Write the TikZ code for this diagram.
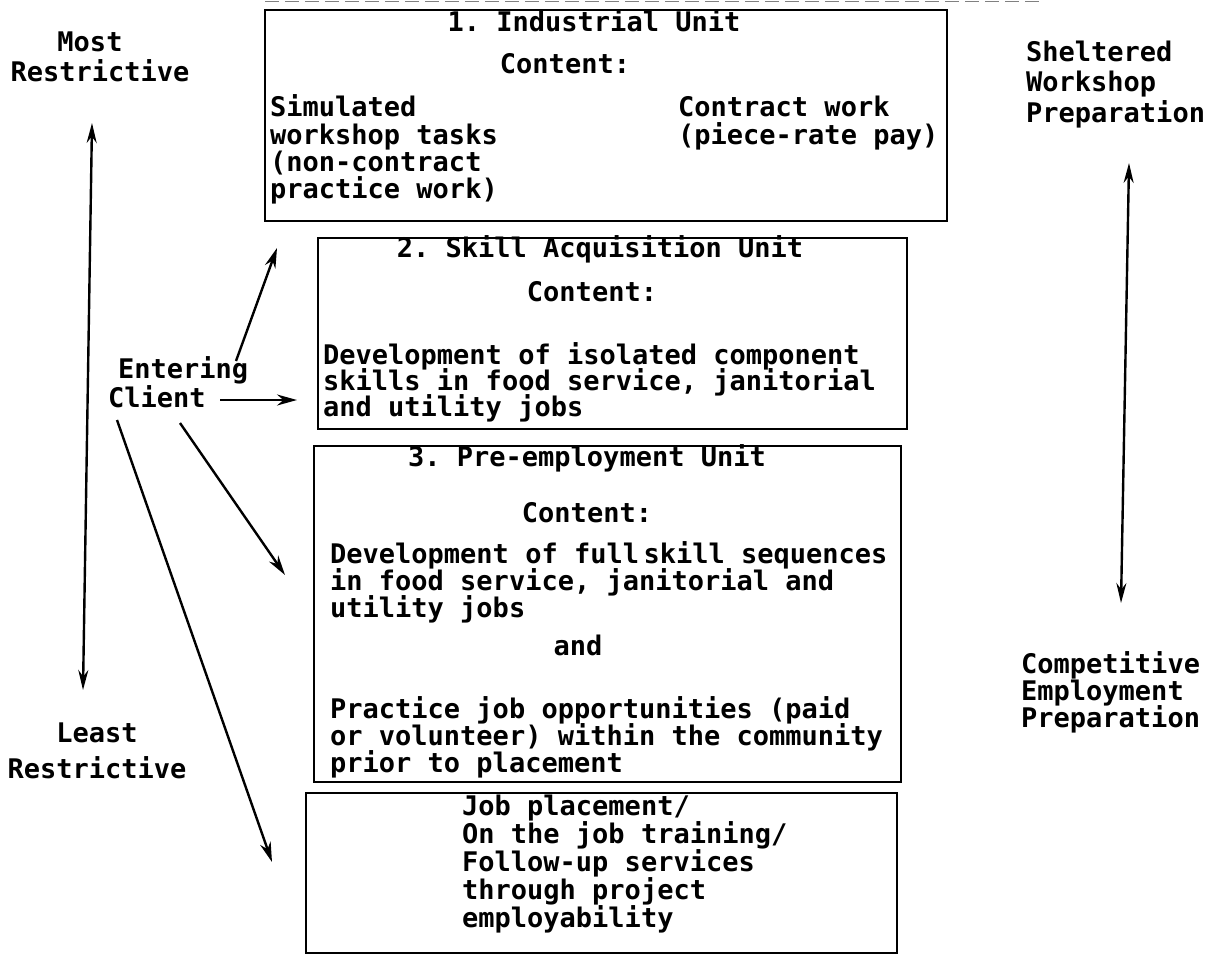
\documentclass[tikz,border=0pt]{standalone}
\usepackage{fontspec}
\setmonofont{DejaVu Sans Mono}
\usetikzlibrary{arrows.meta}
\newcommand{\tw}{\ttfamily\bfseries\fontsize{27}{27}\selectfont}
\tikzset{
  txt/.style={inner sep=0pt, font=\tw},
  lft/.style={txt, anchor=base west},
  ctr/.style={txt, anchor=base},
  unitbox/.style={draw, line width=2.6pt, inner sep=0pt},
  arr/.style={line width=2.4pt, -{Stealth[length=20pt,width=11pt]}},
  dbl/.style={line width=2.4pt, {Stealth[length=20pt,width=10pt]}-{Stealth[length=20pt,width=10pt]}}
}
\begin{document}
\begin{tikzpicture}[x=1pt,y=-1pt]
\useasboundingbox (0,0) rectangle (1214,955);

% faint rule along the top edge
\draw[gray, line width=1pt, dash pattern=on 14pt off 6pt] (265,2) -- (1040,2);

% unit boxes
\node[unitbox, minimum width=682pt, minimum height=211pt] (b1) at (606,115.5) {};
\node[unitbox, minimum width=589pt, minimum height=191pt] (b2) at (612.5,333.5) {};
\node[unitbox, minimum width=587pt, minimum height=336pt] (b3) at (607.5,614) {};
\node[unitbox, minimum width=591pt, minimum height=160pt] (b4) at (601.5,873) {};

% 1. Industrial Unit
\node[ctr] (t1) at (594,32) {1. Industrial Unit};
\node[ctr] (c1) at (565,74) {Content:};
\node[lft] (s1) at (270,117) {Simulated};
\node[lft] (s2) at (270,144) {workshop tasks};
\node[lft] (s3) at (270,171) {(non-contract};
\node[lft] (s4) at (270,198) {practice work)};
\node[lft] (k1) at (678,117) {Contract work};
\node[lft] (k2) at (678,144) {(piece-rate pay)};

% 2. Skill Acquisition Unit
\node[ctr] (t2) at (600,257) {2. Skill Acquisition Unit};
\node[ctr] (c2) at (592,301) {Content:};
\node[lft] (d1) at (323,364) {Development of isolated component};
\node[lft] (d2) at (323,390) {skills in food service, janitorial};
\node[lft] (d3) at (323,416) {and utility jobs};

% 3. Pre-employment Unit
\node[ctr] (t3) at (587,466) {3. Pre-employment Unit};
\node[ctr] (c3) at (587,522) {Content:};
\node[lft] (p1) at (330,563) {Development of full\,skill sequences};
\node[lft] (p2) at (330,590) {in food service, janitorial and};
\node[lft] (p3) at (330,617) {utility jobs};
\node[ctr] (p4) at (578,655) {and};
\node[lft] (p5) at (330,718) {Practice job opportunities (paid};
\node[lft] (p6) at (330,745) {or volunteer) within the community};
\node[lft] (p7) at (330,772) {prior to placement};

% job placement
\node[lft] (j1) at (462,815) {Job placement/};
\node[lft] (j2) at (462,843) {On the job training/};
\node[lft] (j3) at (462,871) {Follow-up services};
\node[lft] (j4) at (462,899) {through project};
\node[lft] (j5) at (462,927) {employability};

% side labels
\node[ctr] (most) at (90,52) {Most};
\node[ctr] (mostr) at (100,82) {Restrictive};
\node[ctr] (least) at (97,742) {Least};
\node[ctr] (leastr) at (97,778) {Restrictive};
\node[lft] (shel1) at (1026,62) {Sheltered};
\node[lft] (shel2) at (1026,92) {Workshop};
\node[lft] (shel3) at (1026,122) {Preparation};
\node[lft] (comp1) at (1021,673) {Competitive};
\node[lft] (comp2) at (1021,700) {Employment};
\node[lft] (comp3) at (1021,727) {Preparation};
\node[lft] (enter) at (118,378) {Entering};
\node[lft] (client) at (108,407) {Client};

% restrictiveness scale
\coordinate (lt) at (92,123);
\coordinate (lb) at (83,690);
\draw[dbl] (lt) -- (lb);

% workshop / competitive scale
\coordinate (rt) at (1129,163);
\coordinate (rb) at (1121,603);
\draw[dbl] (rt) -- (rb);

% entry routes
\coordinate (e1) at (236,361);
\coordinate (to1) at (277,248);
\draw[arr] (e1) -- (to1);
\coordinate (e2) at (220,400);
\coordinate (to2) at (297,400);
\draw[arr] (e2) -- (to2);
\coordinate (e3) at (180,423);
\coordinate (to3) at (285,575);
\draw[arr] (e3) -- (to3);
\coordinate (e4) at (117,420);
\coordinate (to4) at (272,862);
\draw[arr] (e4) -- (to4);
\end{tikzpicture}
\end{document}
